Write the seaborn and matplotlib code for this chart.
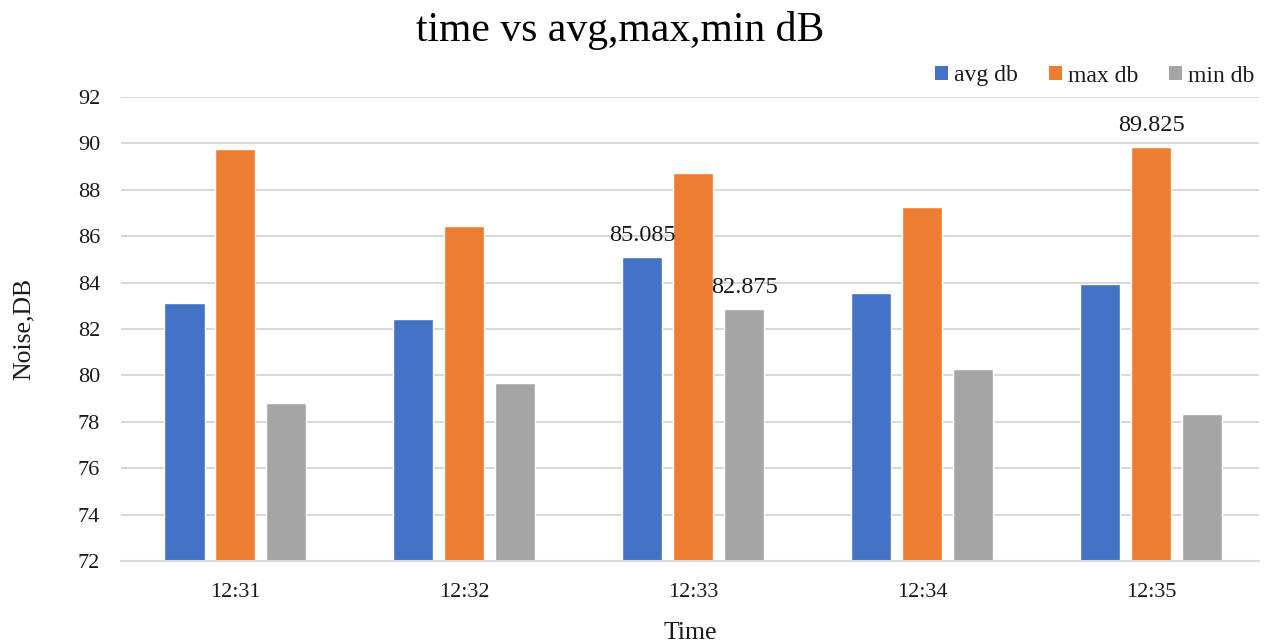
import matplotlib
matplotlib.use("Agg")
import matplotlib.pyplot as plt
import seaborn as sns
import pandas as pd

times = ["12:31", "12:32", "12:33", "12:34", "12:35"]
avg_db = [83.10, 82.45, 85.085, 83.57, 83.93]
max_db = [89.77, 86.46, 88.74, 87.26, 89.825]
min_db = [78.81, 79.68, 82.875, 80.26, 78.32]
series_names = ["avg db", "max db", "min db"]
colors = ["#4472C4", "#ED7D31", "#A5A5A5"]
# labelled bars: (series index, time index)
labelled = [(0, 2), (2, 2), (1, 4)]

rows = []
for name, vals in zip(series_names, [avg_db, max_db, min_db]):
    for t, v in zip(times, vals):
        rows.append({"Time": t, "Series": name, "Value": v})
df = pd.DataFrame(rows)

sns.set_style("white")
plt.rcParams["font.family"] = ["Liberation Serif", "DejaVu Serif"]

fig = plt.figure(figsize=(12.65, 6.43), dpi=100)
ax = fig.add_axes([121 / 1265, (643 - 561) / 643, 1138 / 1265, (561 - 97) / 643])

sns.barplot(data=df, x="Time", y="Value", hue="Series", palette=colors,
            width=0.668, gap=0.215, ax=ax, legend=False, saturation=1,
            order=times, hue_order=series_names)

ax.set_ylim(72, 92)
ax.set_xlim(-0.5, 4.47)
ax.set_yticks(range(72, 93, 2))
ax.yaxis.grid(True, color="#D9D9D9", linewidth=1.5)
ax.set_axisbelow(True)
for s in ["top", "right", "left"]:
    ax.spines[s].set_visible(False)
ax.spines["bottom"].set_color("#D9D9D9")
ax.spines["bottom"].set_linewidth(1.5)
ax.tick_params(axis="both", length=0, labelsize=16, colors="#1a1a1a")
ax.tick_params(axis="y", pad=15)
ax.tick_params(axis="x", pad=16)
ax.set_xlabel("Time", fontsize=18.5, color="#1a1a1a", labelpad=14)
ax.set_ylabel("Noise,DB", fontsize=18.5, color="#1a1a1a", labelpad=31)

# data labels
for si, ti in labelled:
    container = ax.containers[si]
    bar = container[ti]
    x = bar.get_x() + bar.get_width() / 2
    y = bar.get_height() + bar.get_y()
    val = [avg_db, max_db, min_db][si][ti]
    ax.annotate(f"{val:g}", (x, y), xytext=(0, 8), textcoords="offset points",
                ha="center", va="bottom", fontsize=17.5, color="#1a1a1a")

fig.text(620 / 1265, 1 - 30 / 643, "time vs avg,max,min dB", ha="center", va="center",
         fontsize=30, color="#000000")

from matplotlib.patches import Patch
handles = [Patch(facecolor=c, edgecolor="none") for c in colors]
fig.legend(handles, series_names, loc="center right", bbox_to_anchor=(1254 / 1265, 1 - 76 / 643),
           ncol=3, frameon=False, fontsize=17, handlelength=0.55, handleheight=0.55,
           handletextpad=0.25, columnspacing=1.3, labelcolor="#1a1a1a",
           borderpad=0, borderaxespad=0)

fig.savefig("out.png", dpi=100)
